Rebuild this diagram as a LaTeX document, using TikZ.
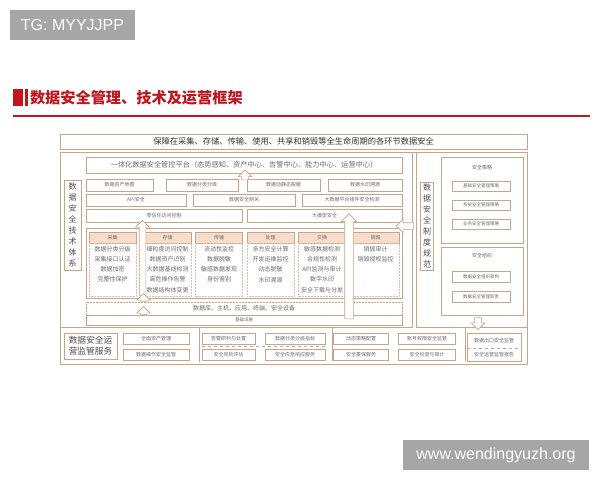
\documentclass[tikz,border=0pt]{standalone}
\usepackage{fontspec}
\setmainfont{Liberation Sans}
\newfontfamily\cjk{Noto Sans CJK SC}
\usetikzlibrary{positioning,shapes.arrows}
\definecolor{frame}{HTML}{C9A487}
\definecolor{headfill}{HTML}{F7DCCB}
\definecolor{boxtext}{HTML}{6B6B6B}
\definecolor{titlered}{HTML}{C1161E}
\definecolor{stamp}{HTML}{A6A6A6}

\begin{document}
\begin{tikzpicture}[
        x=1pt, y=-1pt,
        every node/.style={inner sep=0pt, outer sep=0pt},
        stamp/.style={
            rectangle,
            fill=stamp,
            text=white,
            font=\fontsize{16}{18}\selectfont
        },
        panel/.style={
            rectangle,
            draw=frame,
            line width=0.7pt
        },
        box/.style={
            rectangle,
            draw=frame,
            line width=0.5pt,
            text=boxtext,
            font=\cjk\fontsize{5}{6}\selectfont,
            minimum height=12pt
        },
        head/.style={
            box,
            fill=headfill,
            minimum width=47pt,
            minimum height=11pt
        },
        colbody/.style={
            rectangle,
            draw=frame!70,
            densely dotted,
            line width=0.5pt,
            minimum width=47pt,
            minimum height=53pt
        },
        coltext/.style={
            text=boxtext,
            align=center,
            font=\cjk\fontsize{6}{10.3}\selectfont
        },
        vlabel/.style={
            rectangle,
            draw=frame,
            line width=0.6pt,
            text=black!70,
            align=center,
            font=\cjk\fontsize{8}{11}\selectfont
        },
        blockarrow/.style={
            single arrow,
            draw=frame,
            fill=white,
            line width=0.6pt,
            inner xsep=0pt,
            inner ysep=3pt,
            single arrow head extend=3.5pt
        }
    ]
        \useasboundingbox (0,0) rectangle (600,480);
        \fill[white] (0,0) rectangle (600,480);

        % watermarks
        \node[stamp, minimum width=125pt, minimum height=30pt] (tg) at (72.5,25) {TG: MYYJJPP};
        \node[stamp, minimum width=186pt, minimum height=30pt] (site) at (496,455) {www.wendingyuzh.org};

        % title
        \fill[titlered] (13,89) rectangle (23,106);
        \fill[titlered] (24.5,89) rectangle (27.5,106);
        \node[anchor=west, text=titlered, font=\cjk\bfseries\fontsize{15.2}{17}\selectfont] (title) at (30,98) {数据安全管理、技术及运营框架};
        \draw[titlered, line width=2.5pt] (13,116) -- (590,116);

        % frames
        \node[panel, minimum width=467pt, minimum height=15pt, font=\cjk\fontsize{8.25}{10}\selectfont, text=black!80] (banner) at (293.5,141.5) {保障在采集、存储、传输、使用、共享和销毁等全生命周期的各环节数据安全};
        \node[panel, minimum width=467pt, minimum height=212pt] (outer) at (293.5,258) {};
        \node[panel, minimum width=352pt, minimum height=175pt] (tech) at (236,239.5) {};
        \node[panel, minimum width=111pt, minimum height=175pt] (policy) at (471.5,239.5) {};

        % technical system
        \node[vlabel, minimum width=17pt, minimum height=90pt] (techlabel) at (72.5,225) {数\\据\\安\\全\\技\\术\\体\\系};
        \node[box, minimum width=316pt, minimum height=16pt, font=\cjk\fontsize{7.2}{9}\selectfont] (platform) at (244,165) {一体化数据安全管控平台（态势感知、资产中心、告警中心、能力中心、运营中心）};

        \node[box, anchor=west, minimum width=67pt] (assetmap) at (86,185) {数据资产地图};
        \node[box, right=13pt of assetmap, minimum width=72pt] (grading) {数据分类分级};
        \node[box, right=9pt of grading, minimum width=73pt] (masking) {数据动静态脱敏};
        \node[box, right=8pt of masking, minimum width=74pt] (watermark) {数据水印溯源};

        \node[box, anchor=west, minimum width=100pt] (api) at (86,200) {API安全};
        \node[box, right=7pt of api, minimum width=102pt] (gateway) {数据安全网关};
        \node[box, right=7pt of gateway, minimum width=100pt] (bigdata) {大数据平台组件安全检测};

        \node[box, anchor=west, minimum width=156pt, minimum height=13pt] (zerotrust) at (86,215.5) {零信任访问控制};
        \node[box, right=5pt of zerotrust, minimum width=155pt, minimum height=13pt] (llm) {大模型安全};

        % lifecycle columns
        \node[panel, line width=0.5pt, minimum width=316pt, minimum height=70pt] (lifecycle) at (244,263) {};
        \node[head] (hcollect) at (112.5,237.5) {采集};
        \node[head] (hstore) at (167.5,237.5) {存储};
        \node[head] (htrans) at (219,237.5) {传输};
        \node[head] (hproc) at (270.5,237.5) {处理};
        \node[head] (hswap) at (322,237.5) {交换};
        \node[head] (hdestroy) at (375.5,237.5) {销毁};
        \node[colbody, below=0pt of hcollect] (bcollect) {};
        \node[colbody, below=0pt of hstore] (bstore) {};
        \node[colbody, below=0pt of htrans] (btrans) {};
        \node[colbody, below=0pt of hproc] (bproc) {};
        \node[colbody, below=0pt of hswap] (bswap) {};
        \node[colbody, below=0pt of hdestroy] (bdestroy) {};

        \node[box, densely dotted, minimum width=316pt, minimum height=13pt, font=\cjk\fontsize{6}{7}\selectfont] (resources) at (244,308.5) {数据库、主机、应用、终端、安全设备};
        \node[box, minimum width=316pt, minimum height=10pt, font=\cjk\fontsize{4.5}{5}\selectfont] (infra) at (244,320) {基础设施};

        % long block arrows
        \node[blockarrow, rotate=90, minimum height=75pt] (up2) at (142.5,259.5) {};
        \node[blockarrow, rotate=90, minimum height=105pt, inner ysep=4pt] (up3) at (349,268.5) {};

        \node[coltext, below=3pt of hcollect] (tcollect) {数据分类分级\\采集接口认证\\数据加密\\完整性保护};
        \node[coltext, below=3pt of hstore] (tstore) {细粒度访问控制\\数据资产识别\\大数据基线检测\\高危操作告警\\数据结构体变更};
        \node[coltext, below=3pt of htrans] (ttrans) {流动性监控\\数据脱敏\\敏感数据发现\\身份鉴别};
        \node[coltext, below=3pt of hproc] (tproc) {多方安全计算\\开发运维监控\\动态脱敏\\水印溯源};
        \node[coltext, below=3pt of hswap] (tswap) {敏感数据检测\\合规性检测\\API监测与审计\\数字水印\\安全下载与分发};
        \node[coltext, below=3pt of hdestroy] (tdestroy) {销毁审计\\销毁授权监控};

        % policy side
        \node[vlabel, minimum width=13pt, minimum height=88pt] (policylabel) at (427,226) {数\\据\\安\\全\\制\\度\\规\\范};
        \node[box, minimum width=82pt, minimum height=86pt] (strategy) at (482,200) {};
        \node[box, draw=none] (tstrategy) at (482,168) {安全策略};
        \node[box, minimum width=58pt, minimum height=10pt, font=\cjk\fontsize{4.5}{5}\selectfont] (basic) at (481,186) {基础安全管理策略};
        \node[box, below=9pt of basic, minimum width=58pt, minimum height=10pt, font=\cjk\fontsize{4.5}{5}\selectfont] (system) {系统安全管理策略};
        \node[box, below=9pt of system, minimum width=58pt, minimum height=10pt, font=\cjk\fontsize{4.5}{5}\selectfont] (business) {业务安全管理策略};
        \node[box, minimum width=82pt, minimum height=68pt] (org) at (482,281) {};
        \node[box, draw=none] (torg) at (482,256) {安全组织};
        \node[box, minimum width=58pt, minimum height=11pt, font=\cjk\fontsize{4.5}{5}\selectfont] (orgarch) at (481,276.5) {数据安全组织架构};
        \node[box, below=9pt of orgarch, minimum width=58pt, minimum height=11pt, font=\cjk\fontsize{4.5}{5}\selectfont] (duty) {数据安全管理职责};

        % operations
        \node[vlabel, minimum width=53pt, minimum height=26pt, font=\cjk\fontsize{8.7}{11}\selectfont] (opslabel) at (90.5,346) {数据安全运\\营监管服务};
        \node[box, minimum width=66pt, minimum height=11pt] (assets) at (156,338.5) {全面资产管理};
        \node[box, below=5pt of assets, minimum width=66pt, minimum height=11pt] (opsmon) {数据操作安全监管};

        \draw[frame, line width=0.6pt] (199,327) -- (199,362);
        \draw[frame, line width=0.6pt] (332,327) -- (332,361);
        \draw[frame, line width=0.6pt] (465,327) -- (465,361);

        \node[box, minimum width=53pt, minimum height=11pt] (alarm) at (228.5,338.5) {告警研判与处置};
        \node[box, right=10pt of alarm, minimum width=60pt, minimum height=11pt] (gradeidx) {数据分类分级指标};
        \node[box, below=5pt of alarm, minimum width=53pt, minimum height=11pt] (risk) {安全风险评估};
        \node[box, below=5pt of gradeidx, minimum width=60pt, minimum height=11pt] (emergency) {安全应急响应服务};
        \draw[frame, dashed, line width=0.5pt] (alarm.south west) ++(0,2.5) -- ++(123,0);

        \node[box, minimum width=55pt, minimum height=11pt] (dynpolicy) at (361,338.5) {动态策略配置};
        \node[box, right=10pt of dynpolicy, minimum width=57pt, minimum height=11pt] (account) {账号权限安全监管};
        \node[box, below=5pt of dynpolicy, minimum width=55pt, minimum height=11pt] (guard) {安全重保服务};
        \node[box, below=5pt of account, minimum width=57pt, minimum height=11pt] (audit) {安全检查与审计};

        \node[box, minimum width=54pt, minimum height=28pt] (exitgroup) at (494,347) {};
        \node[box, draw=none] (exitmon) at (494,340.5) {数据出口安全监管};
        \node[box, draw=none] (report) at (494,354.5) {安全运营监管报告};
        \draw[frame, dashed, line width=0.5pt] (exitgroup.west |- 0,348) -- (exitgroup.east |- 0,348);

        % small block arrows
        \node[blockarrow, rotate=90, minimum height=10pt] (up1) at (245,176.5) {};
        \node[blockarrow, rotate=90, minimum height=8pt] (up4) at (143.5,299) {};
        \node[blockarrow, rotate=90, minimum height=8pt] (up5) at (143.5,312) {};
        \node[blockarrow, rotate=180, minimum height=17pt] (left1) at (406.5,226) {};
        \node[blockarrow, rotate=-90, minimum height=12pt] (down1) at (478,322) {};
    \end{tikzpicture}
\end{document}
